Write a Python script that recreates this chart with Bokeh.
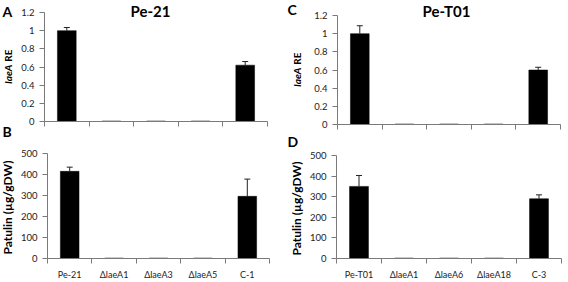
from bokeh.plotting import figure
from bokeh.models import Range1d, FixedTicker, Label, Whisker, TeeHead, ColumnDataSource, GridBox
from bokeh.embed import file_html
from bokeh.resources import INLINE
import math

# ---- data ----
strains_21 = ["Pe-21", "ΔlaeA1", "ΔlaeA3", "ΔlaeA5", "C-1"]
strains_t01 = ["Pe-T01", "ΔlaeA1", "ΔlaeA6", "ΔlaeA18", "C-3"]

laeA_21 = [1.0, 0.005, 0.005, 0.005, 0.62]
laeA_21_err = [0.035, 0.0, 0.0, 0.0, 0.04]
patulin_21 = [415, 2, 2, 2, 296]
patulin_21_err = [20, 0, 0, 0, 82]

laeA_t01 = [1.0, 0.005, 0.005, 0.005, 0.60]
laeA_t01_err = [0.087, 0.0, 0.0, 0.0, 0.03]
patulin_t01 = [350, 2, 2, 2, 290]
patulin_t01_err = [53, 0, 0, 0, 19]

re_ticks = [0, 0.2, 0.4, 0.6, 0.8, 1.0, 1.2]
re_tick_labels = ["0", "0.2", "0.4", "0.6", "0.8", "1", "1.2"]
pat_ticks = [0, 100, 200, 300, 400, 500]
pat_tick_labels = ["0", "100", "200", "300", "400", "500"]

FONT = "Lato"
AXIS_COLOR = "#7a7a7a"
TEXT_COLOR = "#222222"


def panel(cats, vals, errs, ticks, tick_labels, ymax, w, h, left, right, top, bottom, show_x):
    p = figure(width=w, height=h, output_backend="svg", toolbar_location=None,
               x_range=Range1d(0, len(cats)), y_range=Range1d(0, ymax),
               min_border_left=left, min_border_right=right,
               min_border_top=top, min_border_bottom=bottom)
    p.frame_align = False
    p.outline_line_color = None
    p.grid.visible = False
    p.background_fill_color = "white"
    p.border_fill_color = "white"

    xs = [i + 0.5 for i in range(len(cats))]
    p.vbar(x=xs, top=vals, bottom=0, width=0.42, fill_color="black",
           line_color="black", line_width=0.5)

    ex = [x for x, e in zip(xs, errs) if e > 0]
    ev = [v for v, e in zip(vals, errs) if e > 0]
    eu = [v + e for v, e in zip(vals, errs) if e > 0]
    src = ColumnDataSource(dict(x=ex, lower=ev, upper=eu))
    wh = Whisker(source=src, base="x", lower="lower", upper="upper", dimension="height",
                 line_color="#222222", line_width=1, lower_head=None,
                 upper_head=TeeHead(size=6, line_color="#222222", line_width=1),
                 level="overlay")
    p.add_layout(wh)

    xa = p.xaxis[0]
    xa.ticker = FixedTicker(ticks=xs, minor_ticks=list(range(len(cats) + 1)))
    if show_x:
        xa.major_label_overrides = {x: c for x, c in zip(xs, cats)}
    else:
        xa.major_label_overrides = {x: "" for x in xs}
    xa.major_tick_out = 0
    xa.major_tick_in = 0
    xa.minor_tick_out = 5
    xa.minor_tick_in = 0
    xa.major_label_standoff = 5
    xa.axis_line_color = AXIS_COLOR
    xa.minor_tick_line_color = AXIS_COLOR
    xa.major_label_text_font = FONT
    xa.major_label_text_font_size = "9px"
    xa.major_label_text_color = TEXT_COLOR

    ya = p.yaxis[0]
    ya.ticker = FixedTicker(ticks=ticks, minor_ticks=[])
    ya.major_label_overrides = {t: s for t, s in zip(ticks, tick_labels)}
    ya.major_tick_out = 5
    ya.major_tick_in = 0
    ya.minor_tick_out = 0
    ya.minor_tick_in = 0
    ya.major_label_standoff = 5
    ya.axis_line_color = AXIS_COLOR
    ya.major_tick_line_color = AXIS_COLOR
    ya.major_label_text_font = FONT
    ya.major_label_text_font_size = "9.5px"
    ya.major_label_text_color = TEXT_COLOR
    return p


pA = panel(strains_21, laeA_21, laeA_21_err, re_ticks, re_tick_labels, 1.2,
           284, 141, 44, 17, 12, 20, False)
pB = panel(strains_21, patulin_21, patulin_21_err, pat_ticks, pat_tick_labels, 500,
           284, 141, 47, 15, 12, 20, True)
pC = panel(strains_t01, laeA_t01, laeA_t01_err, re_ticks, re_tick_labels, 1.2,
           284, 141, 53, 8, 15, 17, False)
pD = panel(strains_t01, patulin_t01, patulin_t01_err, pat_ticks, pat_tick_labels, 500,
           284, 141, 52, 7, 14, 20, True)

# transparent page-wide overlay for titles, panel letters and axis titles
ov = figure(width=568, height=282, output_backend="svg", toolbar_location=None,
            x_range=Range1d(0, 568), y_range=Range1d(282, 0),
            x_axis_type=None, y_axis_type=None,
            min_border_left=0, min_border_right=0, min_border_top=0, min_border_bottom=0)
ov.frame_align = False
ov.outline_line_color = None
ov.grid.visible = False
ov.background_fill_color = None
ov.border_fill_color = None


def lab(text, x, y, size, style="bold", align="left", baseline="middle", angle=0.0):
    ov.add_layout(Label(x=x, y=y, text=text,
                        text_font=FONT, text_font_size=size, text_font_style=style,
                        text_align=align, text_baseline=baseline, angle=angle,
                        text_color="black"))


lab("Pe-21", 150, 10, "15px", align="center")
lab("Pe-T01", 446, 10, "15px", align="center")
lab("A", 2, 10.5, "14px")
lab("B", 2, 131, "14px")
lab("C", 287, 9, "14px")
lab("D", 287, 141, "14px")
lab("laeA", 7, 64.2, "10px", style="bold italic", align="right", angle=math.pi / 2)
lab("RE", 7, 61.2, "10px", align="left", angle=math.pi / 2)
lab("laeA", 296.5, 67.2, "10px", style="bold italic", align="right", angle=math.pi / 2)
lab("RE", 296.5, 64.2, "10px", align="left", angle=math.pi / 2)
lab("Patulin (µg/gDW)", 7, 207, "12px", align="center", angle=math.pi / 2)
lab("Patulin (µg/gDW)", 296, 208, "12px", align="center", angle=math.pi / 2)

layout = GridBox(children=[(pA, 0, 0), (pC, 0, 1), (pB, 1, 0), (pD, 1, 1),
                           (ov, 0, 0, 2, 2)])
open("out.html", "w").write(file_html(layout, INLINE))
